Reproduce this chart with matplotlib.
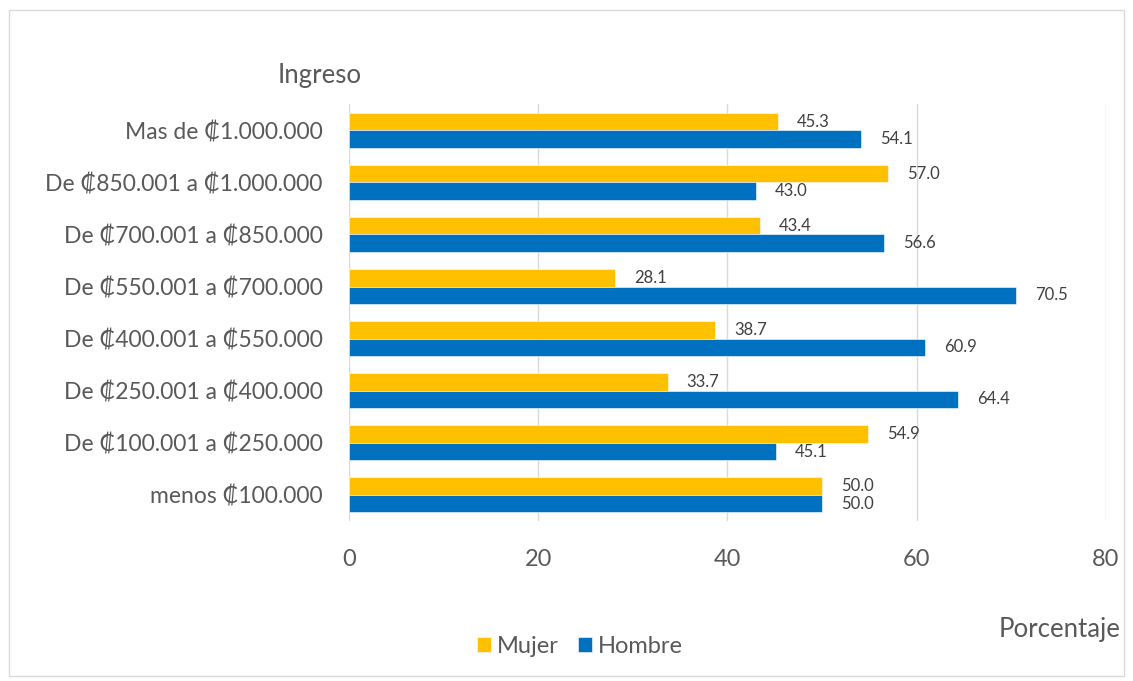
import matplotlib
matplotlib.use("Agg")
import matplotlib.pyplot as plt
from matplotlib.patches import Rectangle
import numpy as np

categories = ["menos ₡100.000", "De ₡100.001 a ₡250.000", "De ₡250.001 a ₡400.000",
              "De ₡400.001 a ₡550.000", "De ₡550.001 a ₡700.000", "De ₡700.001 a ₡850.000",
              "De ₡850.001 a ₡1.000.000", "Mas de ₡1.000.000"]
mujer = [50.0, 54.9, 33.7, 38.7, 28.1, 43.4, 57.0, 45.3]
hombre = [50.0, 45.1, 64.4, 60.9, 70.5, 56.6, 43.0, 54.1]
xticks = [0, 20, 40, 60, 80]

FAM = ["Lato", "DejaVu Sans"]
plt.rcParams["font.family"] = FAM

fig = plt.figure(figsize=(11.33, 6.81), dpi=100)
ax = fig.add_axes([0.308, 0.235, 0.668, 0.612])

y = np.arange(len(categories))
h = 0.335
ax.barh(y + h / 2, mujer, height=h, color="#FFC000", label="Mujer", edgecolor="white", linewidth=0.4)
ax.barh(y - h / 2, hombre, height=h, color="#0070C0", label="Hombre", edgecolor="white", linewidth=0.4)

for yi, v in zip(y, mujer):
    ax.text(v + 2.0, yi + h / 2, f"{v:.1f}", va="center", ha="left", fontsize=12, color="#404040")
for yi, v in zip(y, hombre):
    ax.text(v + 2.0, yi - h / 2, f"{v:.1f}", va="center", ha="left", fontsize=12, color="#404040")

ax.set_xlim(0, 80)
ax.set_ylim(-0.5, len(categories) - 0.5)
ax.set_xticks(xticks)
ax.set_xticklabels([str(t) for t in xticks])
ax.set_yticks(y)
ax.set_yticklabels(categories)
ax.tick_params(axis="x", length=0, pad=20, labelsize=17, labelcolor="#595959")
ax.tick_params(axis="y", length=0, pad=19, labelsize=16.5, labelcolor="#595959")
ax.xaxis.grid(True, color="#D9D9D9", linewidth=1)
ax.set_axisbelow(True)
for s in ax.spines.values():
    s.set_visible(False)

fig.text(0.245, 0.889, "Ingreso", fontsize=18.5, color="#595959", ha="left", va="center")
fig.text(0.989, 0.075, "Porcentaje", fontsize=18.5, color="#595959", ha="right", va="center")

leg = fig.legend(loc="center", bbox_to_anchor=(0.512, 0.051), ncol=2, frameon=False,
                 fontsize=17, handlelength=0.6, handleheight=0.6, columnspacing=0.8,
                 handletextpad=0.25, labelcolor="#595959")

fig.patches.append(Rectangle((0.008, 0.007), 0.984, 0.979, transform=fig.transFigure,
                             fill=False, edgecolor="#D9D9D9", linewidth=1))

fig.savefig("out.png", dpi=100)
